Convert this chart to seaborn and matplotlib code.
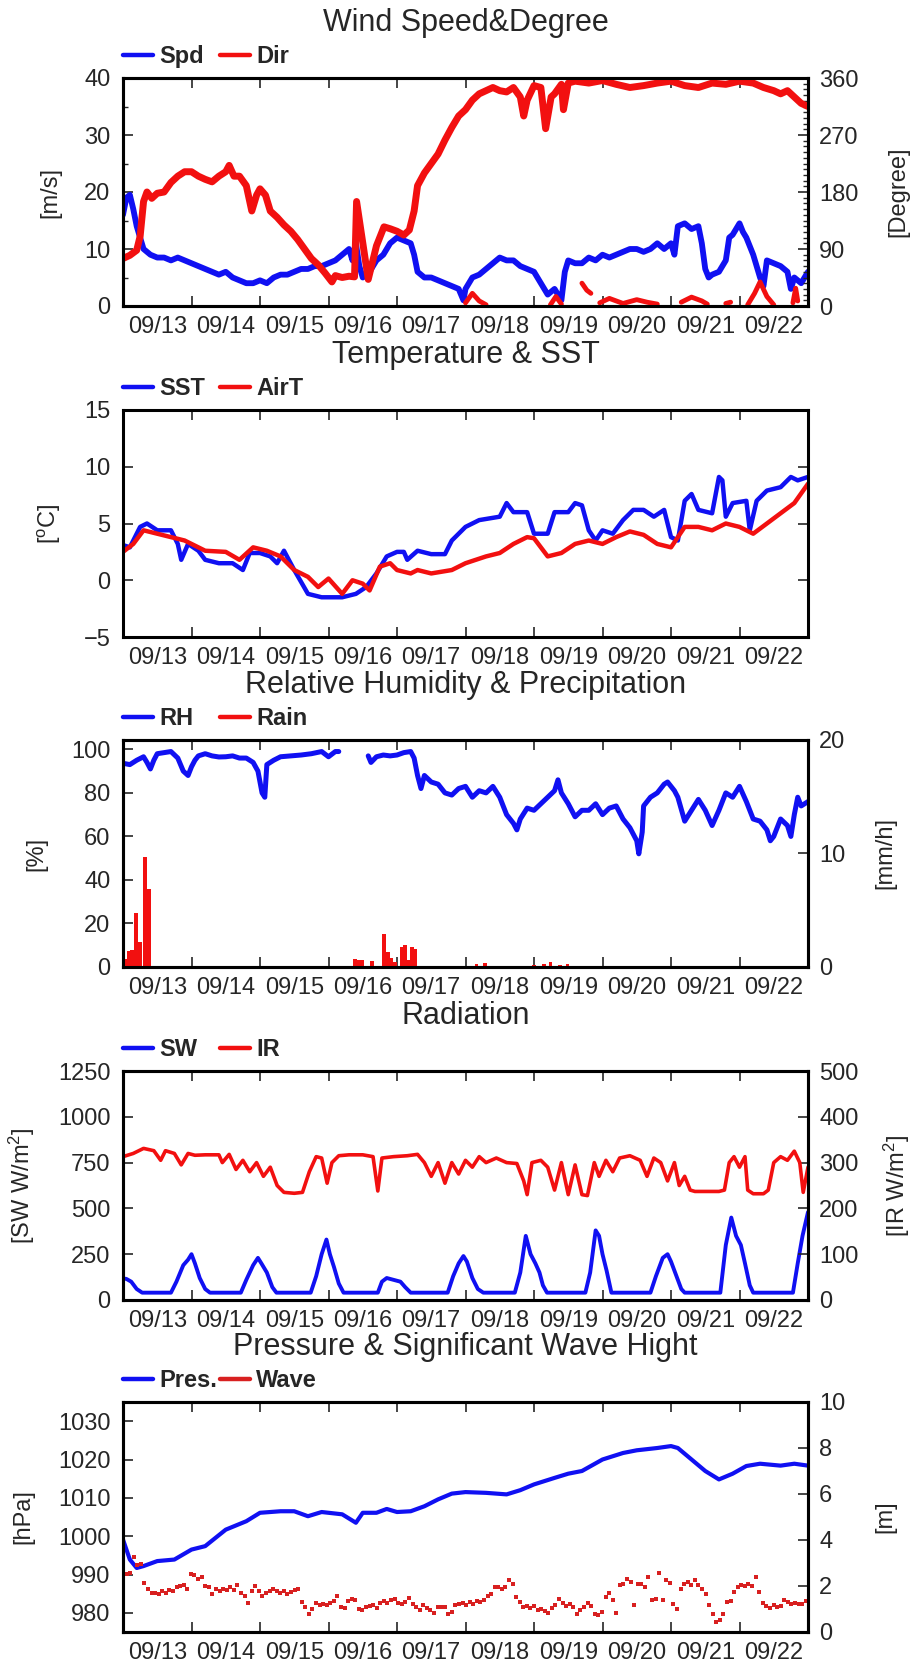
import numpy as np
import pandas as pd
import matplotlib
matplotlib.use("Agg")
import matplotlib.pyplot as plt
import seaborn as sns
from matplotlib.lines import Line2D
from matplotlib.ticker import MultipleLocator, FixedLocator, NullFormatter, FixedFormatter, AutoMinorLocator

# ---------------- data (time in days since 09/12 00:00) ----------------
date_labels = ["09/13", "09/14", "09/15", "09/16", "09/17",
               "09/18", "09/19", "09/20", "09/21", "09/22"]

spd_t = [0.0, 0.05, 0.1, 0.15, 0.2, 0.25, 0.3, 0.4, 0.5, 0.6, 0.7, 0.8, 0.9, 1.0, 1.1, 1.2, 1.3, 1.4, 1.5, 1.6,
         1.7, 1.8, 1.9, 2.0, 2.1, 2.2, 2.3, 2.4, 2.5, 2.6, 2.7, 2.8, 2.9, 3.0, 3.1, 3.2, 3.3, 3.35, 3.4, 3.45,
         3.5, 3.6, 3.7, 3.8, 3.9, 4.0, 4.1, 4.2, 4.25, 4.3, 4.4, 4.5, 4.6, 4.7, 4.8, 4.9, 4.97, 5.0, 5.1, 5.2,
         5.3, 5.4, 5.5, 5.6, 5.7, 5.8, 5.9, 6.0, 6.1, 6.2, 6.3, 6.4, 6.45, 6.5, 6.6, 6.7, 6.8, 6.9, 7.0, 7.1,
         7.2, 7.3, 7.4, 7.5, 7.6, 7.7, 7.8, 7.9, 8.0, 8.05, 8.1, 8.2, 8.3, 8.4, 8.45, 8.5, 8.55, 8.6, 8.7, 8.8,
         8.85, 8.9, 9.0, 9.05, 9.1, 9.2, 9.3, 9.35, 9.4, 9.5, 9.6, 9.7, 9.75, 9.8, 9.9, 10.0]
spd = [16, 19, 19.5, 17, 14, 12, 10, 9, 8.5, 8.5, 8, 8.5, 8, 7.5, 7, 6.5, 6, 5.5, 6, 5,
       4.5, 4, 4, 4.5, 4, 5, 5.5, 5.5, 6, 6.5, 6.5, 7, 7, 7.5, 8, 9, 10, 8, 11, 7,
       5, 6, 8, 9, 11, 12, 11.5, 11, 9, 6, 5, 5, 4.5, 4, 3.5, 3, 1, 3, 5, 5.5,
       6.5, 7.5, 8.5, 8, 8, 7, 6.5, 6, 4, 2, 3, 1, 6, 8, 7.5, 7.5, 8.5, 8, 9, 8.5,
       9, 9.5, 10, 10, 9.5, 10, 11, 10, 11, 9, 14, 14.5, 13.5, 14, 11, 6.5, 5, 5.5, 6, 8,
       12, 12.5, 14.5, 13, 12, 9, 5, 3.5, 8, 7.5, 7, 6, 3, 5, 4, 6]

dir_t = [0.0, 0.1, 0.2, 0.25, 0.3, 0.35, 0.42, 0.5, 0.6, 0.7, 0.8, 0.9, 1.0, 1.1, 1.2, 1.3, 1.4, 1.5, 1.55, 1.62,
         1.7, 1.8, 1.88, 1.95, 2.0, 2.08, 2.15, 2.25, 2.35, 2.45, 2.55, 2.65, 2.75, 2.85, 2.95, 3.0, 3.05, 3.1, 3.2, 3.3,
         3.38, 3.41, 3.58, 3.7, 3.81, 3.9, 4.0, 4.1, 4.18, 4.25, 4.3, 4.4, 4.5, 4.6, 4.7, 4.8, 4.9, 5.0, 5.1, 5.2,
         5.3, 5.4, 5.5, 5.6, 5.7, 5.8, 5.85, 5.9, 6.0, 6.1, 6.17, 6.25, 6.3, 6.4, 6.43, 6.5, 6.6, 6.8, 7.0, 7.2,
         7.4, 7.6, 7.8, 8.0, 8.2, 8.4, 8.6, 8.8, 9.0, 9.2, 9.35, 9.5, 9.6, 9.7, 9.8, 9.9, 10.0]
wdir = [75, 80, 88, 110, 165, 180, 170, 178, 180, 195, 205, 212, 212, 205, 200, 196, 205, 212, 222, 205,
        205, 190, 150, 175, 185, 175, 150, 140, 128, 118, 105, 90, 75, 65, 52, 45, 38, 48, 45, 47,
        46, 165, 42, 95, 125, 122, 118, 112, 120, 150, 190, 210, 225, 240, 262, 282, 300, 310, 325, 335,
        340, 345, 340, 338, 345, 330, 300, 325, 348, 345, 280, 330, 335, 350, 310, 352, 355, 352, 356, 350,
        345, 348, 352, 355, 348, 345, 352, 350, 355, 352, 345, 340, 335, 340, 330, 320, 315]

# direction values that wrapped past 360 (shown near 0), one list per episode
dirw_t = [[5.0, 5.1, 5.2, 5.3], [6.24, 6.32, 6.4], [6.7, 6.77, 6.83], [6.96, 7.1, 7.3, 7.5, 7.65, 7.8],
          [8.15, 8.3, 8.45, 8.53], [8.8, 8.87], [9.12, 9.22, 9.3, 9.4, 9.5], [9.78, 9.82, 9.85]]
dirw = [[5, 20, 8, 2], [2, 15, 3], [36, 25, 20], [5, 12, 4, 10, 6, 3],
        [6, 14, 8, 3], [4, 6], [2, 20, 38, 15, 2], [5, 28, 8]]

sst_t = [0, 0.1, 0.25, 0.35, 0.5, 0.7, 0.8, 0.85, 0.95, 1.1, 1.2, 1.4, 1.6, 1.75, 1.85, 2.0, 2.15, 2.25, 2.35, 2.5,
         2.7, 2.9, 3.2, 3.4, 3.55, 3.7, 3.85, 4.0, 4.1, 4.15, 4.3, 4.5, 4.7, 4.8, 5.0, 5.2, 5.5, 5.6, 5.7, 5.9,
         6.0, 6.2, 6.3, 6.5, 6.6, 6.7, 6.8, 6.9, 7.0, 7.15, 7.3, 7.45, 7.6, 7.75, 7.9, 8.0, 8.1, 8.2, 8.3, 8.4,
         8.6, 8.7, 8.75, 8.8, 8.9, 9.1, 9.15, 9.25, 9.4, 9.6, 9.75, 9.85, 10.0]
sst = [3.1, 2.9, 4.7, 5.0, 4.4, 4.4, 3.2, 1.8, 3.2, 2.6, 1.8, 1.5, 1.5, 0.9, 2.4, 2.4, 2.1, 1.5, 2.6, 0.9,
       -1.2, -1.5, -1.5, -1.2, -0.6, 0.6, 2.1, 2.5, 2.5, 1.8, 2.6, 2.3, 2.3, 3.5, 4.7, 5.3, 5.6, 6.8, 6.0, 6.0,
       4.1, 4.1, 6.0, 6.0, 6.8, 6.6, 4.4, 3.5, 4.4, 4.1, 5.3, 6.2, 6.2, 5.6, 6.2, 3.8, 3.5, 7.0, 7.6, 6.2,
       5.9, 9.1, 8.8, 5.6, 6.8, 7.0, 4.4, 7.0, 7.9, 8.2, 9.1, 8.8, 9.1]

air_t = [0, 0.15, 0.3, 0.5, 0.7, 0.9, 1.1, 1.2, 1.5, 1.7, 1.9, 2.1, 2.3, 2.5, 2.7, 2.85, 3.0, 3.2, 3.35, 3.5,
         3.6, 3.75, 3.9, 4.0, 4.2, 4.3, 4.5, 4.8, 5.0, 5.3, 5.5, 5.7, 5.9, 6.0, 6.1, 6.2, 6.4, 6.6, 6.8, 7.0,
         7.2, 7.4, 7.6, 7.8, 8.0, 8.2, 8.4, 8.6, 8.8, 9.0, 9.2, 9.4, 9.6, 9.8, 10.0]
air = [2.5, 3.2, 4.4, 4.1, 3.8, 3.5, 2.9, 2.6, 2.5, 1.8, 2.9, 2.6, 2.1, 0.9, 0.3, -0.6, 0.15, -1.2, 0.0, -0.3,
       -0.9, 1.2, 1.5, 0.9, 0.6, 0.9, 0.6, 0.9, 1.5, 2.1, 2.4, 3.2, 3.8, 3.7, 2.9, 2.1, 2.4, 3.2, 3.5, 3.2,
       3.8, 4.3, 4.0, 3.2, 2.9, 4.7, 4.7, 4.4, 5.0, 4.7, 4.1, 5.0, 5.9, 6.8, 8.5]

rh_t = [0, 0.1, 0.2, 0.3, 0.35, 0.4, 0.45, 0.5, 0.6, 0.7, 0.8, 0.88, 0.95, 1.0, 1.05, 1.1, 1.2, 1.3, 1.4, 1.5,
        1.6, 1.7, 1.8, 1.9, 1.97, 2.03, 2.07, 2.1, 2.2, 2.3, 2.45, 2.6, 2.75, 2.9, 3.0, 3.1, 3.15, 3.35,
        3.58, 3.62, 3.7, 3.8, 3.9, 4.0, 4.1, 4.2, 4.25, 4.3, 4.35, 4.4, 4.5, 4.6, 4.7, 4.8, 4.9, 5.0, 5.1, 5.2,
        5.3, 5.4, 5.5, 5.6, 5.7, 5.75, 5.8, 5.9, 6.0, 6.1, 6.2, 6.3, 6.35, 6.4, 6.5, 6.6, 6.7, 6.8, 6.9, 7.0,
        7.1, 7.2, 7.3, 7.4, 7.5, 7.53, 7.58, 7.6, 7.7, 7.8, 7.9, 7.95, 8.05, 8.1, 8.2, 8.3, 8.4, 8.5, 8.6, 8.7,
        8.8, 8.9, 9.0, 9.1, 9.2, 9.3, 9.4, 9.45, 9.5, 9.6, 9.7, 9.75, 9.8, 9.85, 9.9, 10.0]
rh = [93.6, 93, 95, 96.6, 94, 91, 95, 98, 98.5, 99, 96, 90, 88, 92, 95, 97, 98, 97, 96.5, 96.6,
      97, 96, 96, 94, 90, 80, 78, 93, 95, 96.6, 97, 97.4, 98, 99, 96.6, 99, 99, np.nan,
      97, 94, 96.6, 97.4, 97, 97.4, 98.5, 99, 96, 88, 82, 88, 85, 84, 80, 79, 82, 83, 78, 81,
      80, 83, 78, 70, 66, 63, 68, 73, 72, 75, 78, 81, 86, 80, 75, 69, 72, 72, 75, 70,
      73, 74, 68, 64, 58, 52, 62, 74, 78, 80, 84, 85, 81, 78, 67, 72, 77, 72, 65, 72,
      80, 78, 83, 76, 68, 67, 63, 58, 60, 68, 65, 60, 70, 78, 74, 76]

rain_t = [0.04, 0.08, 0.13, 0.19, 0.25, 0.32, 0.38,
          3.39, 3.44, 3.49, 3.64, 3.81, 3.87, 3.92, 3.97, 4.07, 4.12, 4.17, 4.22, 4.27,
          5.16, 5.28, 6.0, 6.15, 6.24, 6.38, 6.49]
rain = [0.7, 1.4, 1.5, 4.8, 2.2, 9.7, 6.9,
        0.7, 0.6, 0.6, 0.5, 2.9, 1.3, 0.8, 0.4, 1.8, 1.9, 0.6, 1.8, 1.6,
        0.3, 0.35, 0.15, 0.3, 0.45, 0.2, 0.3]

sw_t = [0.0, 0.05, 0.12, 0.2, 0.28, 0.7, 0.78, 0.88, 0.95, 1.0, 1.05, 1.12, 1.2, 1.27,
        1.72, 1.8, 1.9, 1.97, 2.02, 2.1, 2.18, 2.24, 2.74, 2.82, 2.9, 2.97, 3.02, 3.08, 3.15, 3.22,
        3.72, 3.78, 3.85, 3.95, 4.05, 4.12, 4.2, 4.74, 4.82, 4.9, 4.97, 5.02, 5.1, 5.18, 5.26,
        5.72, 5.8, 5.88, 5.95, 6.02, 6.08, 6.13, 6.19, 6.75, 6.82, 6.9, 6.95, 7.0, 7.06, 7.13,
        7.7, 7.78, 7.88, 7.95, 8.0, 8.08, 8.15, 8.2, 8.72, 8.8, 8.88, 8.95, 9.02, 9.08, 9.15, 9.2,
        9.78, 9.85, 9.92, 10.0]
sw = [118, 115, 100, 60, 40, 40, 100, 190, 220, 250, 200, 120, 60, 40,
      40, 110, 190, 230, 200, 150, 70, 40, 40, 130, 250, 330, 250, 180, 90, 40,
      40, 100, 120, 110, 100, 70, 40, 40, 130, 200, 240, 210, 120, 60, 40,
      40, 150, 350, 250, 200, 150, 80, 40, 40, 150, 380, 350, 250, 160, 40,
      40, 130, 230, 250, 210, 130, 60, 40, 40, 300, 450, 350, 300, 200, 80, 40,
      40, 200, 350, 480]

ir_t = [0.0, 0.15, 0.3, 0.45, 0.55, 0.62, 0.75, 0.85, 0.95, 1.05, 1.2, 1.4, 1.45, 1.55, 1.65, 1.75, 1.85, 1.95,
        2.05, 2.15, 2.25, 2.35, 2.5, 2.62, 2.72, 2.82, 2.9, 2.98, 3.05, 3.15, 3.3, 3.5, 3.65, 3.72, 3.78, 3.95,
        4.15, 4.3, 4.4, 4.5, 4.6, 4.7, 4.8, 4.9, 5.0, 5.1, 5.2, 5.3, 5.45, 5.6, 5.75, 5.85, 5.9, 5.97,
        6.1, 6.2, 6.3, 6.4, 6.5, 6.6, 6.7, 6.78, 6.88, 6.95, 7.05, 7.15, 7.25, 7.4, 7.55, 7.65, 7.75, 7.85,
        7.95, 8.05, 8.12, 8.2, 8.28, 8.35, 8.5, 8.7, 8.78, 8.85, 8.92, 9.0, 9.08, 9.12, 9.2, 9.35, 9.42, 9.5,
        9.6, 9.7, 9.8, 9.88, 9.93, 10.0]
ir = [313, 320, 331, 326, 305, 326, 320, 295, 320, 316, 317, 317, 300, 318, 285, 305, 280, 300,
      270, 290, 250, 235, 233, 235, 280, 313, 310, 255, 300, 315, 317, 317, 313, 238, 310, 313,
      315, 318, 300, 270, 300, 255, 300, 275, 305, 290, 313, 300, 310, 300, 298, 260, 230, 300,
      305, 290, 240, 300, 230, 295, 230, 228, 300, 270, 305, 280, 310, 315, 305, 270, 310, 300,
      260, 300, 250, 270, 240, 237, 237, 237, 240, 300, 313, 290, 313, 240, 232, 232, 240, 300,
      313, 305, 325, 300, 235, 290]

pres_t = [0, 0.1, 0.2, 0.3, 0.5, 0.75, 1.0, 1.2, 1.5, 1.8, 2.0, 2.3, 2.5, 2.7, 2.9, 3.2, 3.4, 3.5, 3.7, 3.85,
          4.0, 4.2, 4.4, 4.6, 4.8, 5.0, 5.3, 5.6, 5.8, 6.0, 6.3, 6.5, 6.7, 7.0, 7.3, 7.5, 7.8, 8.0, 8.1, 8.3,
          8.5, 8.7, 8.9, 9.1, 9.3, 9.6, 9.8, 10.0]
pres = [999.1, 993.9, 991.7, 992.2, 993.5, 993.9, 996.5, 997.4, 1001.7, 1003.9, 1006.1, 1006.5, 1006.5, 1005.2,
        1006.3, 1005.7, 1003.5, 1006.1, 1006.1, 1007.1, 1006.3, 1006.5, 1007.8, 1009.6, 1011.1, 1011.5, 1011.3,
        1010.9, 1012.0, 1013.5, 1015.2, 1016.3, 1017.0, 1020.0, 1021.7, 1022.4, 1023.0, 1023.5, 1023.0, 1020.0,
        1017.0, 1014.8, 1016.3, 1018.3, 1018.9, 1018.4, 1018.9, 1018.4]

wave = [1.99, 2.54, 2.57, 3.26, 2.90, 2.97, 2.13, 1.88, 1.70, 1.70, 1.64, 1.80, 1.70, 1.84, 1.80, 1.96, 1.99,
        2.03, 1.88, 2.54, 2.46, 2.32, 2.39, 1.99, 1.96, 1.64, 1.88, 1.78, 1.88, 1.84, 1.96, 1.84, 2.03, 1.70,
        1.55, 1.26, 1.78, 1.99, 1.78, 1.55, 1.70, 1.80, 1.88, 1.78, 1.70, 1.78, 1.64, 1.74, 1.84, 1.88, 1.30,
        1.09, 0.80, 1.01, 1.26, 1.16, 1.23, 1.16, 1.26, 1.35, 1.55, 1.09, 1.06, 1.35, 1.45, 1.41, 1.01, 0.94,
        1.09, 1.12, 1.16, 1.06, 1.26, 1.35, 1.26, 1.38, 1.45, 1.26, 1.20, 1.30, 1.49, 1.23, 1.09, 0.97, 1.16,
        1.06, 0.94, 0.83, 1.09, 1.09, 1.09, 0.80, 0.87, 1.16, 1.20, 1.26, 1.16, 1.30, 1.23, 1.35, 1.30, 1.41,
        1.55, 1.64, 1.96, 1.96, 1.88, 1.96, 2.28, 2.10, 1.52, 1.30, 1.09, 1.12, 1.06, 1.12, 0.97, 1.01, 0.91,
        0.83, 1.06, 1.16, 1.45, 1.26, 1.12, 1.23, 1.09, 0.80, 0.97, 1.09, 1.26, 1.12, 0.80, 0.72, 0.87, 1.52,
        1.70, 1.41, 0.83, 2.03, 2.10, 2.32, 2.17, 1.16, 2.07, 2.10, 1.96, 2.39, 1.38, 1.45, 2.57, 1.38, 2.25,
        2.13, 1.23, 1.01, 1.88, 2.10, 2.17, 2.03, 2.25, 2.03, 1.88, 1.64, 1.16, 0.80, 0.43, 0.51, 0.80, 1.30,
        1.35, 1.74, 1.96, 2.03, 1.99, 2.10, 1.99, 2.39, 1.74, 1.26, 1.12, 1.06, 1.16, 1.09, 1.12, 1.38, 1.30,
        1.23, 1.26, 1.20, 1.23, 1.35]
wave_t = np.linspace(0.0, 9.966, len(wave))  # roughly regular sampling over the period

# ---------------- style ----------------
sns.set_style("ticks")
plt.rcParams['font.family'] = ['Liberation Sans', 'DejaVu Sans']
plt.rcParams['mathtext.fontset'] = 'custom'
plt.rcParams['mathtext.rm'] = 'Liberation Sans'
plt.rcParams['mathtext.it'] = 'Liberation Sans:italic'

BLUE = '#1010f2'
RED = '#f21010'
WAVE_RED = '#d82020'
TICK_FS = 17
TITLE_FS = 22
LEG_FS = 17
LAB_FS = 17

W, H = 912, 1666
L_PX, R_PX = 123, 808
fig = plt.figure(figsize=(W / 100, H / 100), dpi=100)
fig.patch.set_facecolor('white')


def make_axes(top, height):
    return fig.add_axes([L_PX / W, 1 - (top + height) / H, (R_PX - L_PX) / W, height / H])


def draw(ax, t, y, color, lw):
    df = pd.DataFrame({'t': t, 'y': y})
    df['seg'] = df['y'].isna().cumsum()
    df = df.dropna()
    sns.lineplot(data=df, x='t', y='y', units='seg', estimator=None, sort=False,
                 color=color, lw=lw, ax=ax, legend=False)


def style_x(ax):
    ax.set_xlim(0, 10)
    ax.xaxis.set_major_locator(FixedLocator(range(1, 10)))
    ax.xaxis.set_major_formatter(NullFormatter())
    ax.xaxis.set_minor_locator(FixedLocator([i + 0.5 for i in range(10)]))
    ax.xaxis.set_minor_formatter(FixedFormatter(date_labels))
    ax.tick_params(axis='x', which='major', direction='in', length=7, width=1.2,
                   top=True, bottom=True, labelbottom=False)
    ax.tick_params(axis='x', which='minor', length=0, pad=7, labelsize=TICK_FS,
                   top=False, bottom=True, labelbottom=True)
    ax.set_xlabel('')
    for s in ax.spines.values():
        s.set_linewidth(2.2)
        s.set_color('black')


def style_y(ax, lo, hi, major, minor_n, side='left', mirror=False):
    ax.set_ylim(lo, hi)
    ax.yaxis.set_major_locator(MultipleLocator(major))
    if minor_n:
        ax.yaxis.set_minor_locator(AutoMinorLocator(minor_n))
    if side == 'left':
        ax.tick_params(axis='y', which='both', direction='in', left=True, right=mirror,
                       labelleft=True, labelright=False, labelsize=TICK_FS, pad=9)
    else:
        ax.tick_params(axis='y', which='both', direction='in', left=False, right=True,
                       labelleft=False, labelright=True, labelsize=TICK_FS, pad=8)
    ax.tick_params(axis='y', which='major', length=7, width=1.2)
    ax.tick_params(axis='y', which='minor', length=3.5, width=1.0)
    for s in ax.spines.values():
        s.set_linewidth(2.2)
        s.set_color('black')


def ylab(ax, text, x_px, h_px):
    ax.set_ylabel(text, fontsize=LAB_FS)
    ax.yaxis.set_label_coords((x_px - L_PX) / (R_PX - L_PX), 0.5)
    ax.yaxis.label.set_va('center')
    ax.yaxis.label.set_ha('center')


def title_and_legend(ax, h_px, title, labels, colors):
    ax.text(0.5, 1 + 47 / h_px, title, transform=ax.transAxes, ha='center', va='baseline',
            fontsize=TITLE_FS)
    xs = [123, 220]
    for i, (lab, col) in enumerate(zip(labels, colors)):
        leg = ax.legend(handles=[Line2D([], [], color=col, lw=3.2)], labels=[lab],
                        loc='lower left', bbox_to_anchor=((xs[i] - L_PX) / (R_PX - L_PX), 1 + 10 / h_px),
                        frameon=False, borderpad=0, borderaxespad=0, handlelength=1.25,
                        handletextpad=0.28, prop={'weight': 'bold', 'size': LEG_FS})
        if i == 0:
            ax.add_artist(leg)


panels = [(78, 228), (410, 227), (740, 227), (1071, 229), (1402, 230)]

# ---- Panel 1: wind ----
top, h = panels[0]
ax = make_axes(top, h)
ax2 = ax.twinx()
draw(ax, spd_t, spd, BLUE, 4.2)
draw(ax2, dir_t, wdir, RED, 5.0)
seg_t, seg_v = [], []
for tt, vv in zip(dirw_t, dirw):
    seg_t += tt + [np.nan]
    seg_v += vv + [np.nan]
draw(ax2, seg_t, seg_v, RED, 3.5)
style_x(ax)
style_y(ax, 0, 40, 10, 2, 'left')
style_y(ax2, 0, 360, 90, 10, 'right')
ylab(ax, '[m/s]', 50, h)
ylab(ax2, '[Degree]', 898, h)
title_and_legend(ax, h, 'Wind Speed&Degree', ['Spd', 'Dir'], [BLUE, RED])

# ---- Panel 2: temperature ----
top, h = panels[1]
ax = make_axes(top, h)
draw(ax, sst_t, sst, BLUE, 3.2)
draw(ax, air_t, air, RED, 3.2)
style_x(ax)
style_y(ax, -5, 15, 5, 0, 'left', mirror=True)
ylab(ax, '[$^{\\rm o}$C]', 49.5, h)
title_and_legend(ax, h, 'Temperature & SST', ['SST', 'AirT'], [BLUE, RED])

# ---- Panel 3: RH & rain ----
top, h = panels[2]
ax = make_axes(top, h)
ax2 = ax.twinx()
draw(ax, rh_t, rh, BLUE, 3.6)
ax2.bar(rain_t, rain, width=0.055, color=RED, linewidth=0)
style_x(ax)
style_y(ax, 0, 104.3, 20, 0, 'left')
style_y(ax2, 0, 20, 10, 0, 'right')
ylab(ax, '[%]', 36, h)
ylab(ax2, '[mm/h]', 885, h)
title_and_legend(ax, h, 'Relative Humidity & Precipitation', ['RH', 'Rain'], [BLUE, RED])

# ---- Panel 4: radiation ----
top, h = panels[3]
ax = make_axes(top, h)
ax2 = ax.twinx()
draw(ax, sw_t, sw, BLUE, 2.8)
draw(ax2, ir_t, ir, RED, 2.6)
style_x(ax)
style_y(ax, 0, 1250, 250, 0, 'left')
style_y(ax2, 0, 500, 100, 0, 'right')
ylab(ax, '[SW W/m$^2$]', 21.7, h)
ylab(ax2, '[IR W/m$^2$]', 897, h)
title_and_legend(ax, h, 'Radiation', ['SW', 'IR'], [BLUE, RED])

# ---- Panel 5: pressure & wave ----
top, h = panels[4]
ax = make_axes(top, h)
ax2 = ax.twinx()
draw(ax, pres_t, pres, BLUE, 3.0)
sns.scatterplot(x=wave_t, y=wave, marker='s', s=9, color=WAVE_RED, linewidth=0, ax=ax2, legend=False)
style_x(ax)
style_y(ax, 975, 1035, 10, 0, 'left')
style_y(ax2, 0, 10, 2, 0, 'right')
ylab(ax, '[hPa]', 23.3, h)
ylab(ax2, '[m]', 885, h)
title_and_legend(ax, h, 'Pressure & Significant Wave Hight', ['Pres.', 'Wave'], [BLUE, WAVE_RED])

fig.savefig('out.png', dpi=100, facecolor='white')
